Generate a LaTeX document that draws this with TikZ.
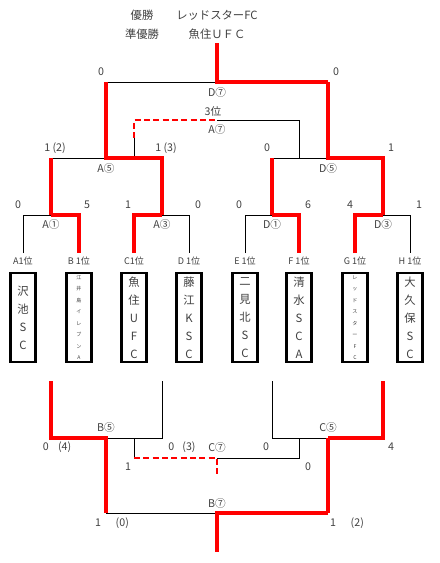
\documentclass[tikz,border=0pt]{standalone}
\usepackage{fontspec}
\setmainfont{Noto Sans CJK JP}
\usepackage{tikz}
\usetikzlibrary{calc}
\definecolor{labelgray}{HTML}{404040}
\definecolor{winred}{HTML}{FF0000}

\begin{document}
\begin{tikzpicture}[x=0.75pt,y=-0.75pt,
  lose/.style={black,line width=0.7pt},
  win/.style={winred,line width=2.3pt},
  third/.style={winred,line width=2pt,dash pattern=on 4.5pt off 2.5pt},
  teambox/.style={draw,line width=1.9pt,minimum width=19pt,minimum height=67pt,
    inner sep=0pt,align=center,text=labelgray,font=\fontsize{8.5}{13.5}\selectfont},
  tinybox/.style={teambox,font=\fontsize{3.8}{8.6}\selectfont},
  lbl/.style={text=labelgray,font=\fontsize{8}{9}\selectfont,inner sep=0pt},
  seed/.style={lbl,font=\fontsize{6.8}{8}\selectfont}]
  \useasboundingbox (0,0) rectangle (439,563);

  % teams
  \foreach \id/\x/\st/\name in {A/23/teambox/{沢\\池\\S\\C},
      B/79/tinybox/{江\\井\\島\\イ\\レ\\ブ\\ン\\A},
      C/134/teambox/{魚\\住\\U\\F\\C}, D/189/teambox/{藤\\江\\K\\S\\C},
      E/245/teambox/{二\\見\\北\\S\\C}, F/299/teambox/{清\\水\\S\\C\\A},
      G/355/tinybox/{レ\\ッ\\ド\\ス\\タ\\ー\\F\\C},
      H/410/teambox/{大\\久\\保\\S\\C}}
    {\node[\st] (t\id) at (\x,317.5) {\name};}
  \foreach \id/\txt in {A/A1位,B/B 1位,C/C1位,D/D 1位,E/E 1位,F/F 1位,G/G 1位,H/H 1位}
    {\node[seed] (rank\id) at ($(t\id)+(0,-56.5)$) {\txt};}

  % bracket points
  \coordinate (top1) at (0,253); \coordinate (bot1) at (0,381);
  \coordinate (a1) at (51,215); \coordinate (a3) at (162,215);
  \coordinate (d1) at (272,215); \coordinate (d3) at (383,215);
  \coordinate (a5) at (106,158); \coordinate (d5) at (328,158);
  \coordinate (d7) at (217,82); \coordinate (champ) at (217,43);
  \coordinate (a7) at (217,120); \coordinate (a7l) at (134,138);
  \coordinate (b5) at (106,438); \coordinate (c5) at (328,438);
  \coordinate (c7) at (217,458); \coordinate (c7end) at (217,475);
  \coordinate (b7) at (217,513); \coordinate (b7end) at (217,552);

  % losing lines
  \draw[lose] (tA |- top1) -- (tA |- a1) -- (a1);
  \draw[lose] (a3) -- (tD |- a3) -- (tD |- top1);
  \draw[lose] (tE |- top1) -- (tE |- d1) -- (d1);
  \draw[lose] (d3) -- (tH |- d3) -- (tH |- top1);
  \draw[lose] (a1 |- a5) -- (a5); \draw[lose] (d1 |- d5) -- (d5);
  \draw[lose] (a5 |- d7) -- (d7);
  \draw[lose] (tC |- a5) -- (a7l);
  \draw[lose] (a7) -- (tF |- a7) -- (tF |- d5);
  \draw[lose] (b5) -- (a3 |- b5) -- (a3 |- bot1);
  \draw[lose] (d1 |- bot1) -- (d1 |- c5) -- (c5);
  \draw[lose] (tC |- b5) -- (tC |- c7);
  \draw[lose] (c7) -- (tF |- c7) -- (tF |- c5);
  \draw[lose] (b5 |- b7) -- (b7);

  % winning lines
  \draw[win] (a1) -- (tB |- a1) -- (tB |- top1);
  \draw[win] (tC |- top1) -- (tC |- a3) -- (a3);
  \draw[win] (d1) -- (tF |- d1) -- (tF |- top1);
  \draw[win] (tG |- top1) -- (tG |- d3) -- (d3);
  \draw[win] (a1) -- (a1 |- a5);
  \draw[win] (a3) -- (a3 |- a5) -- (a5) -- (a5 |- d7);
  \draw[win] (d1) -- (d1 |- d5);
  \draw[win] (d3) -- (d3 |- d5) -- (d5) -- (d5 |- d7);
  \draw[win] (d5 |- d7) -- (d7) -- (champ);
  \draw[third] (a7l) -- (a7l |- a7) -- (a7);
  \draw[win] (a1 |- bot1) -- (a1 |- b5) -- (b5) -- (b5 |- b7);
  \draw[win] (c5) -- (d3 |- c5) -- (d3 |- bot1);
  \draw[win] (c5) -- (c5 |- b7);
  \draw[third] (tC |- c7) -- (c7) -- (c7end);
  \draw[win] (c5 |- b7) -- (b7) -- (b7end);

  % results
  \node[lbl,font=\fontsize{8.5}{10}\selectfont] (wintitle) at (142,15) {優勝};
  \node[lbl,font=\fontsize{8.5}{10}\selectfont] (winname) at (217,15) {レッドスターFC};
  \node[lbl,font=\fontsize{8.5}{10}\selectfont] (runtitle) at (142,34) {準優勝};
  \node[lbl,font=\fontsize{8.5}{10}\selectfont] (runname) at (217,34) {魚住ＵＦＣ};

  % match names
  \node[lbl] (na1) at (51,224) {A①}; \node[lbl] (na3) at (162,224) {A③};
  \node[lbl] (nd1) at (272,224) {D①}; \node[lbl] (nd3) at (383,224) {D③};
  \node[lbl] (na5) at (106,168) {A⑤}; \node[lbl] (nd5) at (328,168) {D⑤};
  \node[lbl] (nd7) at (217,92) {D⑦}; \node[lbl] (na7) at (217,129) {A⑦};
  \node[lbl] (na7t) at (213,111) {3位};
  \node[lbl] (nb5) at (106,427) {B⑤}; \node[lbl] (nc5) at (328,427) {C⑤};
  \node[lbl] (nc7) at (217,447) {C⑦}; \node[lbl] (nb7) at (217,503) {B⑦};

  % scores
  \foreach \n/\x/\s in {sA/18/0,sB/87/5,sC/128/1,sD/198/0,sE/239/0,sF/308/6,sG/350/4,sH/419/1}
    {\node[lbl] (\n) at (\x,205) {\s};}
  \node[lbl] (sa5l) at (55,148) {1~(2)}; \node[lbl] (sa5r) at (166,148) {1~(3)};
  \node[lbl] (sd5l) at (267,148) {0}; \node[lbl] (sd5r) at (391,148) {1};
  \node[lbl] (sd7l) at (101,72) {0}; \node[lbl] (sd7r) at (336,72) {0};
  \node[lbl] (sb5l) at (57,447) {0\hspace{7pt}(4)};
  \node[lbl] (sb5r) at (182,447) {0\hspace{6pt}(3)};
  \node[lbl] (sc5l) at (266,447) {0}; \node[lbl] (sc5r) at (391,447) {4};
  \node[lbl] (sc7l) at (128,467) {1}; \node[lbl] (sc7r) at (308,467) {0};
  \node[lbl] (sb7l) at (112,523) {1\hspace{11pt}(0)};
  \node[lbl] (sb7r) at (347,523) {1\hspace{11pt}(2)};
\end{tikzpicture}
\end{document}
